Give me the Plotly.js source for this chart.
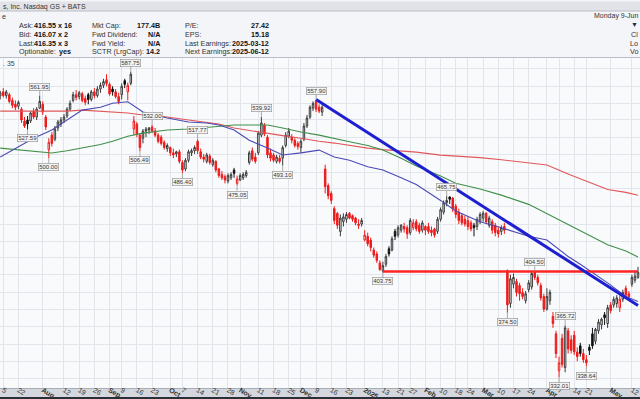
<!DOCTYPE html>
<html><head><meta charset="utf-8">
<script src="https://cdn.plot.ly/plotly-3.0.1.min.js"></script>
<style>html,body{margin:0;padding:0;background:#f4f5f8;overflow:hidden}#chart{width:640px;height:399px}</style>
</head><body><div id="chart"></div>
<script>
const dates = [
"2024-07-12","2024-07-15","2024-07-16","2024-07-17","2024-07-18","2024-07-19","2024-07-22","2024-07-23","2024-07-24","2024-07-25","2024-07-26","2024-07-29","2024-07-30","2024-07-31",
"2024-08-01","2024-08-02","2024-08-05","2024-08-06","2024-08-07","2024-08-08","2024-08-09","2024-08-12","2024-08-13","2024-08-14","2024-08-15","2024-08-16","2024-08-19","2024-08-20","2024-08-21","2024-08-22","2024-08-23","2024-08-26","2024-08-27","2024-08-28","2024-08-29","2024-08-30",
"2024-09-03","2024-09-04","2024-09-05","2024-09-06","2024-09-09","2024-09-10","2024-09-11","2024-09-12","2024-09-13","2024-09-16","2024-09-17","2024-09-18","2024-09-19","2024-09-20","2024-09-23","2024-09-24","2024-09-25","2024-09-26","2024-09-27","2024-09-30",
"2024-10-01","2024-10-02","2024-10-03","2024-10-04","2024-10-07","2024-10-08","2024-10-09","2024-10-10","2024-10-11","2024-10-14","2024-10-15","2024-10-16","2024-10-17","2024-10-18","2024-10-21","2024-10-22","2024-10-23","2024-10-24","2024-10-25","2024-10-28","2024-10-29","2024-10-30","2024-10-31",
"2024-11-01","2024-11-04","2024-11-05","2024-11-06","2024-11-07","2024-11-08","2024-11-11","2024-11-12","2024-11-13","2024-11-14","2024-11-15","2024-11-18","2024-11-19","2024-11-20","2024-11-21","2024-11-22","2024-11-25","2024-11-26","2024-11-27","2024-11-29",
"2024-12-02","2024-12-03","2024-12-04","2024-12-05","2024-12-06","2024-12-09","2024-12-10","2024-12-11","2024-12-12","2024-12-13","2024-12-16","2024-12-17","2024-12-18","2024-12-19","2024-12-20","2024-12-23","2024-12-24","2024-12-26","2024-12-27","2024-12-30","2024-12-31",
"2025-01-02","2025-01-03","2025-01-06","2025-01-07","2025-01-08","2025-01-10","2025-01-13","2025-01-14","2025-01-15","2025-01-16","2025-01-17","2025-01-21","2025-01-22","2025-01-23","2025-01-24","2025-01-27","2025-01-28","2025-01-29","2025-01-30","2025-01-31",
"2025-02-03","2025-02-04","2025-02-05","2025-02-06","2025-02-07","2025-02-10","2025-02-11","2025-02-12","2025-02-13","2025-02-14","2025-02-18","2025-02-19","2025-02-20","2025-02-21","2025-02-24","2025-02-25","2025-02-26","2025-02-27","2025-02-28",
"2025-03-03","2025-03-04","2025-03-05","2025-03-06","2025-03-07","2025-03-10","2025-03-11","2025-03-12","2025-03-13","2025-03-14","2025-03-17","2025-03-18","2025-03-19","2025-03-20","2025-03-21","2025-03-24","2025-03-25","2025-03-26","2025-03-27","2025-03-28","2025-03-31",
"2025-04-01","2025-04-02","2025-04-03","2025-04-04","2025-04-07","2025-04-08","2025-04-09","2025-04-10","2025-04-11","2025-04-14","2025-04-15","2025-04-16","2025-04-17","2025-04-21","2025-04-22","2025-04-23","2025-04-24","2025-04-25","2025-04-28","2025-04-29","2025-04-30",
"2025-05-01","2025-05-02","2025-05-05","2025-05-06","2025-05-07","2025-05-08","2025-05-09","2025-05-12","2025-05-13","2025-05-14"];

const open = [
562,566,562,563,557,553,551,548,536,537, 536,546,540,549,553,540,508,522,518,529,
533,537,541,548,557,563,561,564,559,563, 558,566,562,569,573,579,574,569,566,561,
563,578,566,575,528,533,522,519,526,527, 530,526,522,520,515,509,510,505,504,506,
496,490,498,505,507,516,506,501,497,502, 494,497,490,485,483,479,482,489,477,480,
482,484,496,507,501,505,522,532,520,505, 503,497,500,500,512,521,520,517,514,510,
518,531,540,549,556,550,545,490,475,468, 455,451,436,444,446,451,449,447,442,442,
429,432,429,421,418,411,405,410,422,421, 436,433,437,440,439,435,439,444,441,437,
440,440,437,438,436,446,452,460,465,464, 457,452,449,446,445,443,441,440,444,447,
451,441,444,441,437,436,440,405,381,395, 397,394,389,383,391,393,404,400,394,386,
377,383,372,360,336,357,338,362,356,359, 348,352,347,343,351,360,355,362,366,373,
367,380,380,381,378,384,392,388,395,398, 400];
const high = [
567,570,568,565,560,557,557,550,540,541, 546,549,550,561.95,556,542,519,525,531,537,
540,543,550,557,566,568,567,566,562,565, 568,570,572,576,580,585,576,572,569,565,
575,580,576,587.75,541,535,524,528,530,530, 532,529,524,522,517,514,511,509,507,508,
498,500,508,509,512,517.77,509,504,505,504, 500,498,491,488,485,486,487,491,484,486,
487,489,507,510,505,526,539.92,534,522,509, 505,503,503,512,525,529,523,519,516,518,
534,542,552,556,557.90,553,552,494,477,470, 457,452,450,451,452,452,450,448,446,447,
437,435,431,423,420,413,412,418,424,432, 438,441,442,443,441,447,446,446,443,445,
441,443,440,439,448,456,462,465.75,465.5,465, 459,455,451,449,448,445,443,448,452,453,
452,449,446,443,440,441,443,406,402,403, 399,396,392,390,398,404,404.50,402,396,388,
392,391,375,362,345,360,365.72,364,359,362, 351,354,350,346,353,364,364,370,371,375,
380,382,386,387,387,391,394,390,402,405, 408];
const low = [
558,560,559,554,549,547,548,534,529,527.59, 534,538,537,548,542,527,500.00,511,516,526,
530,534,539,546,555,557,558,555,552,553, 556,559,560,565,570,572,562,562,559,553,
558,570,557,573,522,520,506.49,514,520,523, 524,520,514,512,508,506,502,500,501,495,
486.40,488,496,502,504,504,499,496,495,494, 492,487,482,480,477,477,480,482,475.05,479,
480,482,494,497,495,503,520,521,500,497, 496,495,495,493.10,510,519,514,510,508,505,
516,529,538,546,545,544,541,468,463,459, 442,438,432,440,443,446,444,441,438,440,
428,424,420,415,411,405,403.75,408,416,420, 429,431,435,435,430,433,437,436,434,435,
433,434,432,431,434,444,450,457,459,452, 447,442,441,440,437,436,432,437,442,444,
442,439,434,432,431,433,434,374.50,378,392, 386,383,384,381,389,391,398,394,383,375,
376,380,364,344,332.01,338,335,347,347,346, 342,345,341,338.64,346,350,353,360,363,366,
364,374,378,378,375,382,385,384,393,396, 399];
const close = [
565,562,566,556,552,550,555,537,531,533, 544,540,548,556,545,530,515,514,528,535,
537,540,548,554,563,560,565,557,555,558, 566,562,569,573,577,575,564,566,561,556,
572,574,573,585,536,523,510,526,528,529, 526,522,516,514,510,512,505,503,506,497,
489,498,506,507,510,507,501,499,503,496, 498,489,484,482,480,484,485,486,481,484,
485,487,505,499,497,524,534,523,503,500, 498,501,497,510,522,526,517,512,511,516,
531,539,550,554,548,546,550,474,466,462, 445,441,447,448,450,447,446,443,441,445,
433,426,423,417,413,406,409,416,418,430, 432,439,441,438,434,445,443,438,436,443,
437,436,435,433,446,454,460,462,463,455, 450,445,443,442,440,438,439,446,450,451,
444,447,437,435,434,439,437,380,399,400, 389,388,386,388,396,403,400,396,385,377,
386,389,367,347,341,340,364,350,349,348, 345,347,343,341,349,352,363,368,370,371,
378,376,384,385,384,389,387,386,400,401, 404];

const maDates = ["2024-07-12","2024-07-29","2024-08-06","2024-08-13","2024-08-20","2024-08-28","2024-09-04","2024-09-11","2024-09-18","2024-09-30","2024-10-09","2024-10-17","2024-10-23","2024-10-30","2024-11-06","2024-11-14","2024-11-21","2024-12-02","2024-12-10","2024-12-17","2024-12-24","2025-01-03","2025-01-13","2025-01-22","2025-01-29","2025-02-10","2025-02-18","2025-02-28","2025-03-11","2025-03-24","2025-04-01","2025-04-10","2025-04-16","2025-04-30","2025-05-08","2025-05-14"];
const ma50 = [501,519,527,537,547,550,554,555.6,545,539,535,534,532,527,517,509.5,503,505,507.6,501,498,492,489,482,476,462,453,444,439,432,429,416,410,396,386,382.5];
const ma100 = [509.5,506.7,504.8,507,509.5,513,516,521,524,527,528,529.5,530,532,532,532,529,525,522,518.5,515.5,512,507.6,500,492.8,483.5,477,472,466.6,458.6,450.8,441.3,436.2,425.2,420.3,415.6];
const ma200 = [546,546,546,546,547,546,545,544,542,540,537,534.5,533,529,526.5,524,521.5,519,516,514.3,512,509.5,508,507,505.7,502.8,502,500.5,498.5,495.5,493.6,485.5,481.2,471.5,469,466.5];

const trendDates = ["2024-12-09","2025-05-14"];
const trendValues = [557.90, 379.5];
const supportDates = ["2025-01-13","2025-05-14"];
const supportValues = [404.50, 404.50];

const labelDates = ["2024-07-31","2024-07-25","2024-08-05","2024-09-12","2024-09-17","2024-09-23","2024-10-07","2024-10-14","2024-10-31","2024-11-12","2024-11-21","2024-12-09","2025-01-13","2025-02-12","2025-03-13","2025-03-26","2025-04-07","2025-04-09","2025-04-21"];
const labelValues = [561.95,527.59,500.00,587.75,506.49,532.00,486.40,517.77,475.05,539.92,493.10,557.90,403.75,465.75,374.50,404.50,332.01,365.72,338.64];
const labelAbove = [true,false,false,true,false,true,false,true,false,true,false,true,false,true,false,true,false,true,false];

const tickDates = ["2024-07-15","2024-07-22","2024-08-01","2024-08-12","2024-08-19","2024-08-26","2024-09-03","2024-09-09","2024-09-16","2024-09-23","2024-10-01","2024-10-07","2024-10-14","2024-10-21","2024-10-28","2024-11-01","2024-11-11","2024-11-18","2024-11-25","2024-12-02","2024-12-09","2024-12-16","2024-12-23","2025-01-02","2025-01-13","2025-01-21","2025-01-27","2025-02-03","2025-02-10","2025-02-18","2025-02-24","2025-03-03","2025-03-10","2025-03-17","2025-03-24","2025-04-01","2025-04-07","2025-04-14","2025-04-21","2025-05-01","2025-05-12"];
const tickText = ["5","22","<b>Aug</b>","12","19","26","<b>Sep</b>","9","16","23","<b>Oct</b>","7","14","21","28","<b>Nov</b>","11","18","25","<b>Dec</b>","9","16","23","<b>2025</b>","13","21","27","<b>Feb</b>","10","18","24","<b>Mar</b>","10","17","24","<b>Apr</b>","7","14","21","<b>May</b>","12"];
const gridPrices = [591,572,554,537,520,503,487,472,457,442,428,415,402,389,377,365,353,342,331];

// ---- build candle traces (red = close below previous close) ----
function subset(pred){
  const s={x:[],open:[],high:[],low:[],close:[]};
  for(let i=0;i<dates.length;i++){ if(pred(i)){ s.x.push(dates[i]); s.open.push(open[i]); s.high.push(high[i]); s.low.push(low[i]); s.close.push(close[i]); } }
  return s;
}
const isRed = i => i>0 && close[i] < close[i-1];
const blk = subset(i=>!isRed(i));
const red = subset(i=>isRed(i));
const RED = '#ee1c1c';

const traces = [
  {type:'scatter',mode:'lines',x:maDates,y:ma200,line:{color:'#e0575a',width:1.1},hoverinfo:'skip'},
  {type:'scatter',mode:'lines',x:maDates,y:ma100,line:{color:'#3f8f47',width:1.1},hoverinfo:'skip'},
  {type:'scatter',mode:'lines',x:maDates,y:ma50,line:{color:'#4a4ab4',width:1.1},hoverinfo:'skip'},
  Object.assign({type:'candlestick',whiskerwidth:0,
    increasing:{line:{color:'#3a3a3a',width:1},fillcolor:'#ffffff'},
    decreasing:{line:{color:'#111111',width:1},fillcolor:'#111111'},hoverinfo:'skip'},blk),
  Object.assign({type:'candlestick',whiskerwidth:0,
    increasing:{line:{color:RED,width:1},fillcolor:'#ffffff'},
    decreasing:{line:{color:RED,width:1},fillcolor:RED},hoverinfo:'skip'},red),
  {type:'scatter',mode:'lines',x:supportDates,y:supportValues,line:{color:'#ff2424',width:2.5},hoverinfo:'skip'},
  {type:'scatter',mode:'lines',x:trendDates,y:trendValues,line:{color:'#1f1fd2',width:3},hoverinfo:'skip'}
];

// ---- pixel helpers for decorative header ----
const TOP=58, BOT=388, H=BOT-TOP;
const px = x => x/640;
const py = y => (BOT-y)/H;
const FONT = 'Liberation Sans, Arial, sans-serif';

const annotations = [];
for(let k=0;k<labelDates.length;k++){
  annotations.push({x:labelDates[k], y:Math.log10(labelValues[k]), xref:'x', yref:'y',
    text:labelValues[k].toFixed(2), showarrow:true, arrowhead:0, arrowwidth:0.7, arrowcolor:'#8a8a8a',
    ax:0, ay: labelAbove[k] ? -9 : 9, standoff:0,
    font:{size:6, family:FONT, color:'#333'}, bgcolor:'#f3f3f3', bordercolor:'#9a9a9a', borderwidth:0.7, borderpad:0.5});
}
function txt(x,y,t,anchor,opts){
  annotations.push(Object.assign({xref:'paper',yref:'paper',x:px(x),y:py(y),text:t,showarrow:false,
    xanchor:anchor,yanchor:'middle',font:{size:7.2,family:FONT,color:'#333'}},opts||{}));
}
const VAL = {size:7.2,family:FONT,color:'#111'};
txt(0.5,6.5,'s, Inc. Nasdaq GS + BATS','left',{font:{size:7,family:FONT,color:'#333'}});
txt(0.3,16,'e','left');
txt(17,25.5,'Ask:','left'); txt(32,25.5,'<b>416.55 x 16</b>','left',{font:VAL});
txt(17,34.3,'Bid:','left'); txt(32,34.3,'<b>416.07 x 2</b>','left',{font:VAL});
txt(17,43.1,'Last:','left'); txt(32,43.1,'<b>416.35 x 3</b>','left',{font:VAL});
txt(17,51.9,'Optionable:','left'); txt(73,51.9,'<b>yes</b>','right',{font:VAL});
txt(90,25.5,'Mkt Cap:','left'); txt(162,25.5,'<b>177.4B</b>','right',{font:VAL});
txt(90,34.3,'Fwd Dividend:','left'); txt(162,34.3,'<b>N/A</b>','right',{font:VAL});
txt(90,43.1,'Fwd Yield:','left'); txt(162,43.1,'<b>N/A</b>','right',{font:VAL});
txt(90,51.9,'SCTR (LrgCap):','left'); txt(162,51.9,'<b>14.2</b>','right',{font:VAL});
txt(183,25.5,'P/E:','left'); txt(271,25.5,'<b>27.42</b>','right',{font:VAL});
txt(183,34.3,'EPS:','left'); txt(271,34.3,'<b>15.18</b>','right',{font:VAL});
txt(183,43.1,'Last Earnings:','left'); txt(271,43.1,'<b>2025-03-12</b>','right',{font:VAL});
txt(183,51.9,'Next Earnings:','left'); txt(271,51.9,'<b>2025-06-12</b>','right',{font:VAL});
txt(639.5,16,'Monday 9-Jun','right',{font:{size:7,family:FONT,color:'#333'}});
txt(639.5,25,'▼','right',{font:{size:7,family:FONT,color:'#1c2a5c'}});
txt(639.5,34.3,'Cl','right'); txt(639.5,43.1,'Lo','right'); txt(639.5,51.9,'Vo','right');
txt(0.5,63.5,'. 35','left',{font:{size:7,family:FONT,color:'#444'}});

const shapes = [
  {type:'rect',xref:'paper',yref:'paper',x0:0,x1:1,y0:py(0),y1:py(-2),fillcolor:'#2f3640',line:{width:0},layer:'below'},
  {type:'rect',xref:'paper',yref:'paper',x0:0,x1:1,y0:py(11),y1:py(1.5),fillcolor:'#e1e3e8',line:{width:0},layer:'below'},
  {type:'line',xref:'paper',yref:'paper',x0:0,x1:1,y0:py(11),y1:py(11),line:{color:'#b9bdc5',width:1},layer:'below'},
  {type:'line',xref:'paper',yref:'paper',x0:0,x1:1,y0:py(57.5),y1:py(57.5),line:{color:'#b9bdc5',width:1},layer:'below'},
  {type:'rect',xref:'paper',yref:'paper',x0:0,x1:1,y0:py(397),y1:py(388),fillcolor:'#d4d7dd',line:{width:0},layer:'below'},
  {type:'line',xref:'paper',yref:'paper',x0:0,x1:1,y0:py(388.5),y1:py(388.5),line:{color:'#a9adb5',width:1},layer:'below'},
  {type:'rect',xref:'paper',yref:'paper',x0:0,x1:1,y0:py(401),y1:py(397),fillcolor:'#2a2f38',line:{width:0},layer:'below'}
];

const layout = {
  width:640, height:399,
  margin:{l:0,r:0,t:TOP,b:399-BOT,pad:0},
  paper_bgcolor:'#f4f5f8', plot_bgcolor:'#f9fafc',
  showlegend:false,
  font:{family:FONT,size:7,color:'#333'},
  xaxis:{type:'category', categoryorder:'array', categoryarray:dates, range:[-0.07,210.66],
    tickvals:tickDates, ticktext:tickText, ticks:'', showgrid:true, gridcolor:'#e2e5eb', gridwidth:1,
    zeroline:false, showline:false, tickfont:{size:7,family:FONT,color:'#333'}, ticklabeloverflow:'allow',
    ticklabelstandoff:-4, rangeslider:{visible:false}, fixedrange:true},
  yaxis:{type:'log', range:[2.51228,2.78032], autorange:false, tickvals:gridPrices, showticklabels:false,
    ticks:'', showgrid:true, gridcolor:'#e2e5eb', gridwidth:1, zeroline:false, showline:false, fixedrange:true},
  annotations:annotations, shapes:shapes
};
Plotly.newPlot('chart', traces, layout, {staticPlot:true, displayModeBar:false});
</script></body></html>
